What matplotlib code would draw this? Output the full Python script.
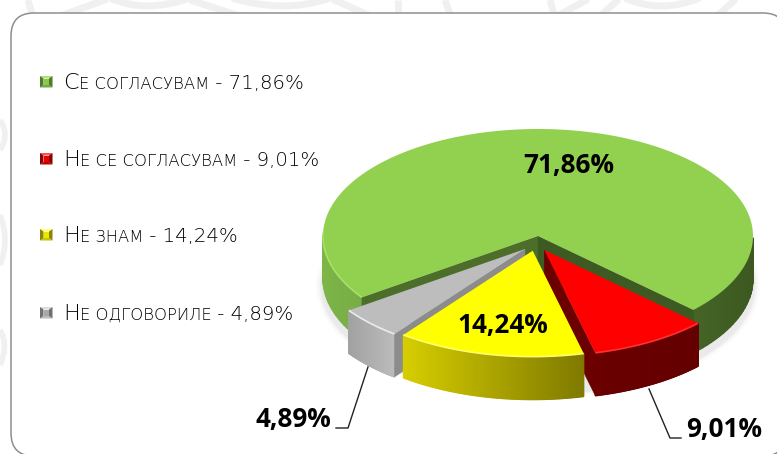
import numpy as np
import matplotlib
matplotlib.use("Agg")
import matplotlib.pyplot as plt
from matplotlib.patches import Polygon, FancyBboxPatch, PathPatch
from matplotlib.path import Path

# ---- data ----
names = ["Се согласувам", "Не се согласувам", "Не знам", "Не одговориле"]
values = [71.86, 9.01, 14.24, 4.89]
labels = ["71,86%", "9,01%", "14,24%", "4,89%"]
# small-caps legend pieces
legend_head = ["С", "Н", "Н", "Н"]
legend_tail = ["Е СОГЛАСУВАМ", "Е СЕ СОГЛАСУВАМ", "Е ЗНАМ", "Е ОДГОВОРИЛЕ"]
legend_pct = [" - 71,86%", " - 9,01%", " - 14,24%", " - 4,89%"]

W, H = 777, 454
fig = plt.figure(figsize=(W/100, H/100), dpi=100)
ax = fig.add_axes([0, 0, 1, 1])
ax.set_xlim(0, W); ax.set_ylim(H, 0); ax.axis("off")
BOLD = "Open Sans"
LIGHT = "DejaVu Sans"

# ---- faint watermark ----
wm = "#f0f0f0"
def curve(pts, lw=7):
    codes = [Path.MOVETO] + [Path.CURVE3]*(len(pts)-1)
    if (len(pts)-1) % 2:
        codes = [Path.MOVETO] + [Path.LINETO]*(len(pts)-1)
    ax.add_patch(PathPatch(Path(pts, codes), fc="none", ec=wm, lw=lw, zorder=0))
for p in [[(28,0),(32,14)], [(55,18),(110,-2)], [(110,-2),(145,14),(190,-2)], [(190,0),(240,16)],
          [(232,-2),(285,14),(330,-2)], [(330,-2),(375,18)], [(398,0),(398,14)], [(445,0),(450,14)],
          [(550,0),(554,14)], [(554,18),(590,-2)], [(598,18),(620,-2)], [(625,-2),(660,14),(700,-2)],
          [(715,18),(737,-2)]]:
    curve(p, 5)
for p in [[(0,120),(10,135),(0,150)], [(0,215),(10,240),(0,265)], [(0,330),(9,345),(0,365)]]:
    curve(p, 4)

# ---- panel ----
ax.add_patch(FancyBboxPatch((11, 13), 775, 443, boxstyle="round,pad=0,rounding_size=23",
                            fc="white", ec="#8e8e8e", lw=1.1, zorder=1))

# ---- pie ----
cx, cy, rx, ry, depth = 538.0, 236.0, 215.0, 107.0, 43.0
start = 215.0            # degrees, counter-clockwise from east; slices run clockwise
offsets = [(0, 0), (6.3, 14), (-5.3, 14.7), (-13, 13)]
scales = [1.0, 0.99, 0.99, 1.0]
tops = ["#92d050", "#ff0000", "#ffff00", "#bdbdbd"]
rim = ["#a9e066", "#ff3030", "#ffff70", "#ebebeb"]

angles = [start]
for v in values:
    angles.append(angles[-1] - v * 3.6)

def pt(a, o, s=1.0):
    r = np.radians(a)
    return cx + o[0] + s*rx*np.cos(r), cy + o[1] - s*ry*np.sin(r)

def mix(c1, c2, t):
    a = np.array(matplotlib.colors.to_rgb(c1)); b = np.array(matplotlib.colors.to_rgb(c2))
    return tuple(a + (b-a)*t)

def outer_side(a1, a2, o, s, c1, c2, z):
    """a1 > a2; left-to-right gradient across the slice, front half only."""
    aa = np.linspace(a1, a2, 140)
    xs = [pt(a, o, s)[0] for a in aa if np.sin(np.radians(a)) <= 0]
    x0, x9 = min(xs), max(xs)
    for u, v in zip(aa[:-1], aa[1:]):
        if np.sin(np.radians((u+v)/2)) > 0.0:
            continue
        x1, y1 = pt(u, o, s); x2, y2 = pt(v, o, s)
        c = mix(c1, c2, (((x1+x2)/2) - x0) / (x9-x0))
        ax.add_patch(Polygon([(x1,y1),(x2,y2),(x2,y2+depth),(x1,y1+depth)],
                             fc=c, ec=c, lw=.9, zorder=z))

def cut_face(a, o, s, c, z):
    x, y = pt(a, o, s); px, py = cx+o[0], cy+o[1]
    ax.add_patch(Polygon([(px,py),(x,y),(x,y+depth),(px,py+depth)], fc=c, ec=c, lw=.3, zorder=z))

def top(a1, a2, o, s, c, rc, z, left_only=False):
    aa = np.linspace(a1, a2, 240)
    p = [pt(a, o, s) for a in aa]
    ax.add_patch(Polygon([(cx+o[0], cy+o[1])] + p, fc=c, ec="none", zorder=z))
    fa = np.array([pt(a, o, s) for a in aa if np.sin(np.radians(a)) < 0.05])
    gaps = np.where(np.abs(np.diff(fa[:, 0])) > 20)[0]
    for run in np.split(fa, gaps+1):
        if left_only and run[:, 0].mean() > cx:
            continue
        ax.plot(run[:, 0], run[:, 1], color=rc, lw=1.2, zorder=z+.1, solid_capstyle="butt")

# soft shadow below the whole pie
for g, al in zip([7, 4.5, 2.5], [.025, .04, .06]):
    aa = np.radians(np.linspace(0, 360, 200))
    ax.add_patch(Polygon(np.c_[cx+(rx+g)*np.cos(aa), cy+depth+7+(ry+g*.7)*np.sin(aa)],
                         fc="#555555", alpha=al, ec="none", zorder=2))

# green
outer_side(angles[0], angles[1], offsets[0], scales[0], "#7db548", "#3c5820", 3)
cut_face(angles[0], offsets[0], scales[0], "#4d6e2a", 3.2)
cut_face(angles[1], offsets[0], scales[0], "#3d5a22", 3.2)
top(angles[0], angles[1], offsets[0], scales[0], tops[0], rim[0], 3.5, left_only=True)
# gray
outer_side(angles[3], angles[4], offsets[3], scales[3], "#a2a2a2", "#bcbcbc", 4)
cut_face(angles[3], offsets[3], scales[3], "#8c8c8c", 4.2)
top(angles[3], angles[4], offsets[3], scales[3], tops[3], rim[3], 4.5)
# red
outer_side(angles[2], angles[1], offsets[1], scales[1], "#6a0000", "#640000", 5)
cut_face(angles[2], offsets[1], scales[1], "#6a0000", 5.2)
top(angles[1], angles[2], offsets[1], scales[1], tops[1], rim[1], 5.5)
# yellow
outer_side(angles[2], angles[3], offsets[2], scales[2], "#d6ce00", "#7f7900", 6)
top(angles[2], angles[3], offsets[2], scales[2], tops[2], rim[2], 6.5)

# ---- leader lines ----
ax.plot([368, 348, 336], [367, 428, 428], color="#222222", lw=1, zorder=7)
ax.plot([649, 670, 681], [389, 438, 438], color="#222222", lw=1, zorder=7)

# ---- data labels ----
lab_pos = [(568.5, 165), (724, 430), (503, 326), (293, 419)]
for s, (x, y) in zip(labels, lab_pos):
    ax.text(x, y, s, ha="center", va="center", fontsize=18.8, fontweight="bold",
            family=BOLD, color="black", zorder=8)

# ---- legend ----
leg_y = [82, 159, 235, 313]
sw_face = ["#8cc84c", "#e80000", "#e8e800", "#a8a8a8"]
sw_top = ["#b0e070", "#ff5050", "#ffff70", "#dcdcdc"]
sw_side = ["#4e7a2a", "#8a0000", "#8a8600", "#707070"]
sw_low = ["#7aa840", "#c00000", "#c8c400", "#bcbcbc"]
r = fig.canvas.get_renderer()
for i, y in enumerate(leg_y):
    x0, x1, y0, y1 = 40, 52.5, y-6, y+5.5
    a, b, c, d = x0+3.5, x1-3.5, y0+2.5, y1-2.5
    ax.add_patch(Polygon([(x0,y0),(x1,y0),(b,c),(a,c)], fc=sw_top[i], ec="none", zorder=3))
    ax.add_patch(Polygon([(x0,y1),(x1,y1),(b,d),(a,d)], fc=sw_low[i], ec="none", zorder=3))
    ax.add_patch(Polygon([(x0,y0),(a,c),(a,d),(x0,y1)], fc=sw_side[i], ec="none", zorder=3))
    ax.add_patch(Polygon([(x1,y0),(b,c),(b,d),(x1,y1)], fc=sw_side[i], ec="none", zorder=3))
    ax.add_patch(plt.Rectangle((a, c), b-a, d-c, fc=sw_face[i], ec="none", zorder=4))
    x = 63.0
    for s, fs in [(legend_head[i], 16), (legend_tail[i], 11.8), (legend_pct[i], 14.2)]:
        t = ax.text(x, y+7, s, ha="left", va="baseline", fontsize=fs, family=LIGHT,
                    fontweight="light", color="black", zorder=5)
        w, _, _ = r.get_text_width_height_descent(s, t.get_fontproperties(), False)
        x += w

fig.savefig("out.png", dpi=100)
